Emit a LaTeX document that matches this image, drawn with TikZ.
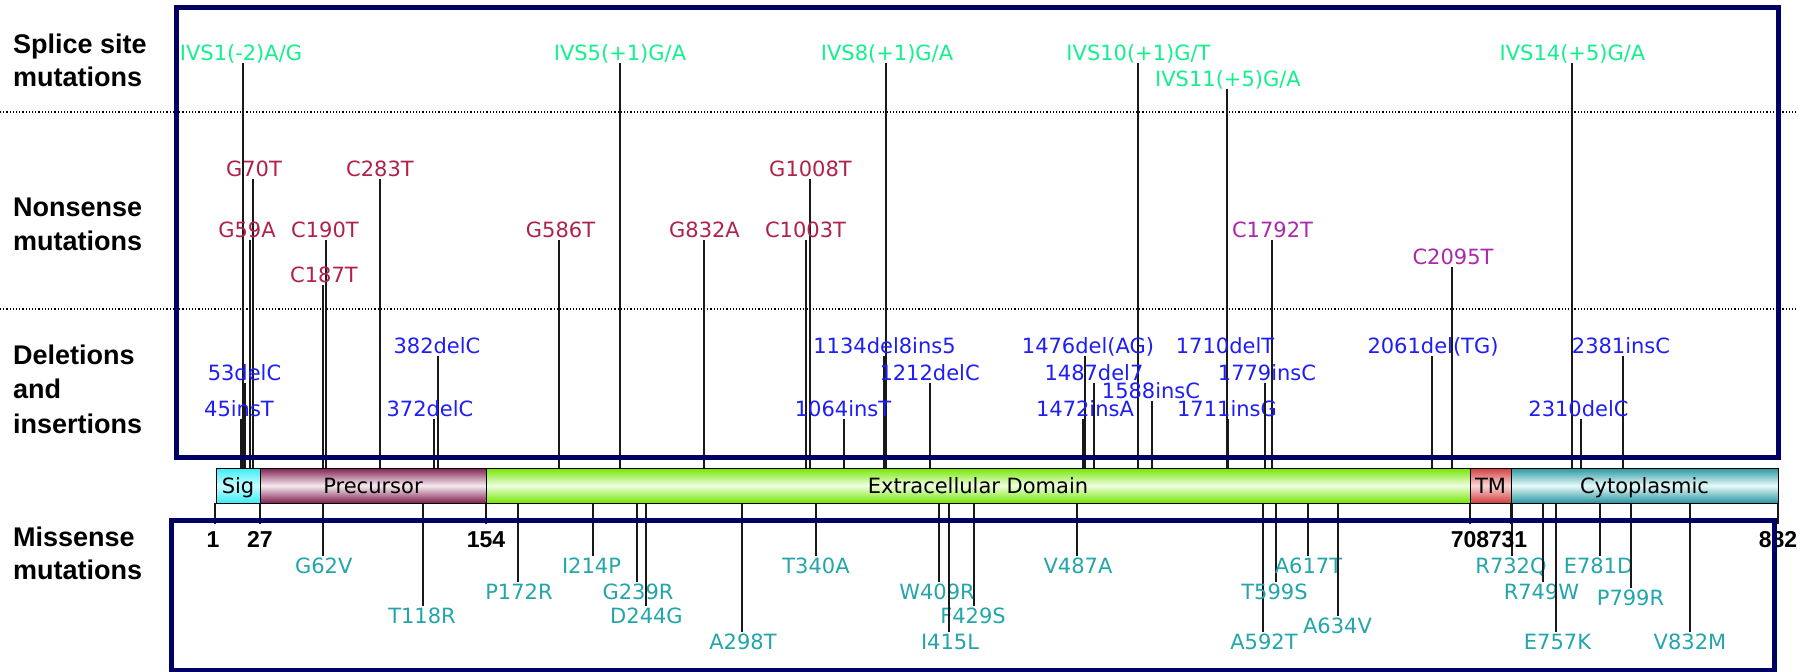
\documentclass[tikz,border=0pt]{standalone}
\usepackage{fontspec}
\setmainfont{DejaVu Sans}
\newfontfamily\labfont{DejaVu Sans}
\newfontfamily\sidefont{Liberation Sans}
\definecolor{splc}{RGB}{20,240,140}
\definecolor{nons}{RGB}{175,35,75}
\definecolor{nonm}{RGB}{170,40,170}
\definecolor{delc}{RGB}{30,30,245}
\definecolor{misc}{RGB}{35,165,170}
\definecolor{navy}{RGB}{0,0,100}
\definecolor{linec}{RGB}{25,25,25}
\definecolor{sigA}{RGB}{60,235,245}
\definecolor{sigB}{RGB}{200,255,255}
\definecolor{preA}{RGB}{128,32,80}
\definecolor{preB}{RGB}{245,235,240}
\definecolor{ecdA}{RGB}{115,230,0}
\definecolor{ecdB}{RGB}{240,255,225}
\definecolor{tmA}{RGB}{210,60,60}
\definecolor{tmB}{RGB}{250,215,215}
\definecolor{cytA}{RGB}{40,150,160}
\definecolor{cytB}{RGB}{232,250,250}
\newcommand\upmut[6]{%
  \node[#2] (#1) at (#3,#4) {#6};
  \draw[mline] (#5,0 |- #1.south) -- (#5,0 |- bartop);}
\newcommand\misset[5]{%
  \node[mis] (#1) at (#2,#3) {#5};
  \draw[mline] (#4,0 |- barbot) -- (#4,0 |- #1.north);}
\newcommand\numtick[3]{%
  \coordinate (t#1) at (#2,524);
  \draw[mline] (#2,0 |- barbot) -- (t#1);}
\begin{document}
\begin{tikzpicture}[x=1pt,y=-1pt,
  lab/.style={font=\labfont\fontsize{21}{21}\selectfont, inner sep=0pt, outer sep=2.5pt, text height=15.3pt, text depth=0pt},
  spl/.style={lab, text=splc},
  non/.style={lab, text=nons},
  nonmag/.style={lab, text=nonm},
  del/.style={lab, text=delc},
  mis/.style={lab, text=misc},
  mline/.style={draw=linec, line width=2pt},
  navybox/.style={draw=navy, line width=5pt},
  dotline/.style={draw=black, line width=1.2pt, dash pattern=on 1.2pt off 2pt},
  side/.style={font=\sidefont\bfseries\fontsize{27}{27}\selectfont, anchor=base west, inner sep=0pt},
  num/.style={font=\sidefont\bfseries\fontsize{23}{23}\selectfont, inner sep=0pt, text height=16pt, text depth=0pt},
  seg/.style={draw=black, line width=1pt, minimum height=35pt, inner sep=0pt, font=\labfont\fontsize{21}{21}\selectfont, text height=15.3pt, text depth=0pt},
  segsh/.style 2 args={top color=#1, bottom color=#1, middle color=#2}]
\fill[white] (0,0) rectangle (1810,672);
\useasboundingbox (0,0) rectangle (1810,672);
\coordinate (bartop) at (0,468);
\coordinate (barbot) at (0,503);
% dotted separators
\coordinate (dl1) at (0,112); \coordinate (dr1) at (1798,112);
\coordinate (dl2) at (0,309); \coordinate (dr2) at (1798,309);
\draw[dotline] (dl1) -- (dr1);
\draw[dotline] (dl2) -- (dr2);
% side labels
\node[side] (s1) at (13,53) {Splice site};
\node[side] (s2) at (13,86) {mutations};
\node[side] (n1) at (13,216) {Nonsense};
\node[side] (n2) at (13,250) {mutations};
\node[side] (d1) at (13,364) {Deletions};
\node[side] (d2) at (13,398) {and};
\node[side] (d3) at (13,433) {insertions};
\node[side] (m1) at (13,546) {Missense};
\node[side] (m2) at (13,579) {mutations};
% splice site
\upmut{ivs1}{spl}{241}{52.5}{243}{IVS1(-2)A/G}
\upmut{ivs5}{spl}{620}{52.5}{620}{IVS5(+1)G/A}
\upmut{ivs8}{spl}{887}{52.5}{886}{IVS8(+1)G/A}
\upmut{ivs10}{spl}{1138.5}{52.5}{1138}{IVS10(+1)G/T}
\upmut{ivs11}{spl}{1228}{79}{1227}{IVS11(+5)G/A}
\upmut{ivs14}{spl}{1572.5}{52.5}{1572}{IVS14(+5)G/A}
% nonsense
\upmut{g70t}{non}{254}{169}{253}{G70T}
\upmut{c283t}{non}{380}{169}{380}{C283T}
\upmut{g1008t}{non}{810.5}{169}{810}{G1008T}
\upmut{g59a}{non}{247}{230}{249.5}{G59A}
\upmut{c190t}{non}{325}{230}{326}{C190T}
\upmut{g586t}{non}{560.5}{230}{559}{G586T}
\upmut{g832a}{non}{704.5}{230}{704}{G832A}
\upmut{c1003t}{non}{805.5}{230}{805.5}{C1003T}
\upmut{c1792t}{nonmag}{1272.5}{230}{1272}{C1792T}
\upmut{c2095t}{nonmag}{1453}{257}{1452}{C2095T}
\upmut{c187t}{non}{324}{275}{323}{C187T}
% deletions and insertions
\upmut{d53}{del}{244.5}{372.5}{244.5}{53delC}
\upmut{i45}{del}{239}{408.5}{241}{45insT}
\upmut{d382}{del}{437}{346}{437.5}{382delC}
\upmut{d372}{del}{430}{408.5}{433.5}{372delC}
\upmut{d1134}{del}{884.5}{346}{884}{1134del8ins5}
\upmut{d1212}{del}{929.6}{372.5}{930}{1212delC}
\upmut{i1064}{del}{843}{408.5}{844}{1064insT}
\upmut{d1476}{del}{1088}{346}{1085}{1476del(AG)}
\upmut{d1487}{del}{1094}{372.5}{1094}{1487del7}
\upmut{i1588}{del}{1151}{391}{1152}{1588insC}
\upmut{i1472}{del}{1085}{408.5}{1083}{1472insA}
\upmut{d1710}{del}{1225}{346}{1226.5}{1710delT}
\upmut{i1711}{del}{1227}{408.5}{1228}{1711insG}
\upmut{i1779}{del}{1267}{372.5}{1265}{1779insC}
\upmut{d2061}{del}{1433}{346}{1432}{2061del(TG)}
\upmut{i2381}{del}{1621}{346}{1622.5}{2381insC}
\upmut{d2310}{del}{1578.5}{408.5}{1580.5}{2310delC}
% missense
\misset{g62v}{323.7}{566}{323}{G62V}
\misset{t118r}{422}{616}{422.6}{T118R}
\misset{p172r}{519}{592}{518.4}{P172R}
\misset{i214p}{591.5}{566}{592.9}{I214P}
\misset{g239r}{638}{592}{637.2}{G239R}
\misset{d244g}{646.5}{616}{646.1}{D244G}
\misset{a298t}{743}{642}{741.9}{A298T}
\misset{t340a}{816}{566}{816.4}{T340A}
\misset{w409r}{937}{592}{938.8}{W409R}
\misset{f429s}{973}{616}{974.3}{F429S}
\misset{i415l}{950}{642}{949.4}{I415L}
\misset{v487a}{1078}{566}{1077.2}{V487A}
\misset{a592t}{1264}{642}{1263.4}{A592T}
\misset{t599s}{1274.5}{592}{1275.8}{T599S}
\misset{a617t}{1308.5}{566}{1307.8}{A617T}
\misset{a634v}{1337.5}{626}{1338}{A634V}
\misset{r732q}{1511}{566}{1512}{R732Q}
\misset{r749w}{1541.5}{592}{1542.5}{R749W}
\misset{e757k}{1557.5}{642}{1556}{E757K}
\misset{e781d}{1598.5}{566}{1600}{E781D}
\misset{p799r}{1630.5}{598}{1631}{P799R}
\misset{v832m}{1690}{642}{1689.5}{V832M}
% ticks and numbers
\numtick{1}{215}{1}
\numtick{27}{260}{27}
\numtick{154}{486}{154}
\numtick{708}{1470}{708}
\numtick{731}{1511}{731}
\numtick{882}{1778}{882}
\node[num] (p1) at (213,539.5) {1};
\node[num] (p27) at (260,539.5) {27};
\node[num] (p154) at (486,539.5) {154};
\node[num] (p708) at (1470,539.5) {708};
\node[num] (p731) at (1508,539.5) {731};
\node[num] (p882) at (1778,539.5) {882};
% protein bar
\node[seg, segsh={sigA}{sigB}, minimum width=44pt] (sig) at (238,485.5) {Sig};
\node[seg, segsh={preA}{preB}, minimum width=226pt] (pre) at (373,485.5) {Precursor};
\node[seg, segsh={ecdA}{ecdB}, minimum width=984pt] (ecd) at (978,485.5) {Extracellular Domain};
\node[seg, segsh={tmA}{tmB}, minimum width=41pt] (tm) at (1490.5,485.5) {TM};
\node[seg, segsh={cytA}{cytB}, minimum width=267pt] (cyto) at (1644.5,485.5) {Cytoplasmic};
% frames
\draw[navybox] (176,7) rectangle (1778,457);
\draw[navybox] (171.5,520) rectangle (1774.5,670);
\end{tikzpicture}
\end{document}
